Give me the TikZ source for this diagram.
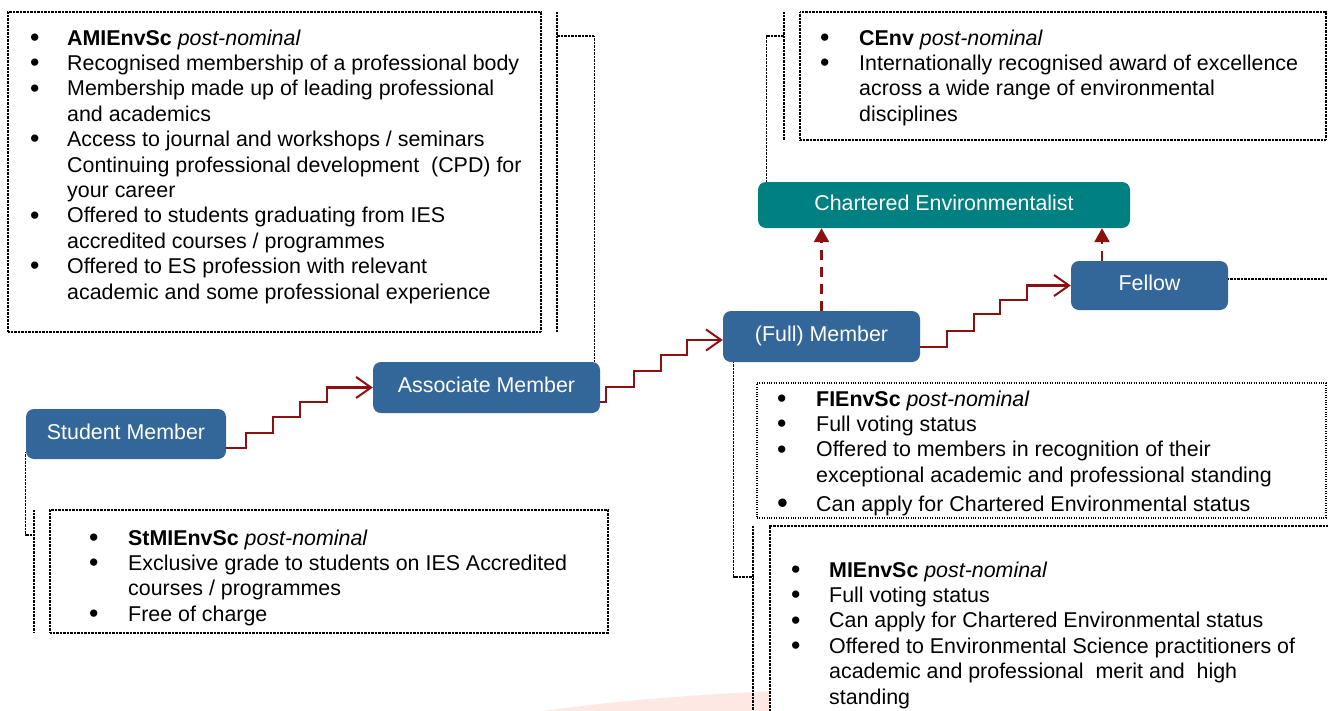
\documentclass[tikz,border=0pt]{standalone}
\usepackage{fontspec}
\usepackage{graphicx}
\setmainfont{Liberation Sans}
\usetikzlibrary{arrows.meta}
\definecolor{gblue}{RGB}{52,103,153}
\definecolor{gteal}{RGB}{0,128,128}
\definecolor{stairred}{RGB}{140,16,16}
\definecolor{swoosh}{RGB}{253,232,228}
\newcommand{\blt}{\raisebox{-1.2pt}{\scalebox{1.25}{\textbullet}}}
\newcommand{\bigblt}{\raisebox{-2pt}{\scalebox{1.45}{\textbullet}}}
\begin{document}
\begin{tikzpicture}[x=1pt,y=-1pt,
 grade/.style={rectangle, rounded corners=8pt, fill=gblue, text=white, inner sep=0pt,
   text height=15.4pt, text depth=4.5pt, font=\fontsize{21.4}{25.4}\selectfont},
 chartered/.style={grade, fill=gteal},
 infobox/.style={rectangle, draw=black, line width=1.1pt, dash pattern=on 0.9pt off 0.5pt, fill=white, inner sep=0pt},
 sparsebox/.style={infobox, dash pattern=on 1pt off 1.4pt},
 bracket/.style={draw=black, line width=1.1pt, dash pattern=on 0.9pt off 0.5pt},
 bullettext/.style={anchor=base west, inner sep=0pt, font=\fontsize{21.4}{25.4}\selectfont},
 stair/.style={draw=stairred, line width=2.2pt, -{Straight Barb[length=15pt,width=21pt,line width=2pt]}},
 dasharrow/.style={draw=stairred, line width=2.5pt, dash pattern=on 10pt off 7pt, -{Triangle[length=14pt,width=15pt]}},
]
\useasboundingbox (0,0) rectangle (1328,710);
\clip (0,0) rectangle (1328,710);
\fill[white] (0,0) rectangle (1328,710);

% faint background swoosh
\fill[swoosh] (536,712) .. controls (620,700) and (700,694) .. (800,690) -- (800,712) -- cycle;

% grade boxes
\node[grade, minimum width=200pt, minimum height=50pt] (sm) at (126,434) {Student Member};
\node[grade, minimum width=227pt, minimum height=51pt] (am) at (486.5,387.5) {Associate Member};
\node[grade, minimum width=197pt, minimum height=51pt] (fm) at (821.5,336.5) {(Full) Member};
\node[grade, minimum width=157pt, minimum height=49pt] (fe) at (1149.5,285.5) {Fellow};
\node[chartered, minimum width=372pt, minimum height=46pt] (ce) at (944,205) {Chartered Environmentalist};

% information boxes
\node[infobox, minimum width=533pt, minimum height=320pt] (amibox) at (274.5,172) {};
\node[infobox, minimum width=558pt, minimum height=123pt] (stbox) at (329,571.5) {};
\node[infobox, minimum width=526pt, minimum height=128pt] (cebox) at (1063,76) {};
\node[sparsebox, minimum width=569pt, minimum height=135pt] (fibox) at (1041.5,450.5) {};
\node[infobox, minimum width=580pt, minimum height=214pt] (mibox) at (1060,633) {};

% bracket lines and connectors
\coordinate (abt) at (557,12); \coordinate (abb) at (557,332); \coordinate (aj) at (557,36);
\draw[bracket] (abt) -- (abb);
\draw[bracket] ([xshift=-6pt]am.north east) |- (aj);

\coordinate (sbt) at (34,510); \coordinate (sbb) at (34,633); \coordinate (sj) at (34,535);
\draw[bracket] (sbt) -- (sbb);
\draw[bracket] ([yshift=7pt]sm.south west) |- (sj);

\coordinate (cbt) at (784,12); \coordinate (cbb) at (784,140); \coordinate (cj) at (784,36);
\draw[bracket] (cbt) -- (cbb);
\draw[bracket] ([xshift=9pt]ce.north west) |- (cj);

\coordinate (mbt) at (753,526); \coordinate (mbb) at (753,714); \coordinate (mj) at (753,577);
\draw[bracket] (mbt) -- (mbb);
\draw[bracket] ([xshift=11pt]fm.south west) |- (mj);

\coordinate (fx) at (1332,279);
\draw[bracket] (fe.east |- fx) -- (fx);

% stair arrows
\draw[stair] ([yshift=-14pt]sm.east) -- ++(20,0) -- ++(0,-15) -- ++(27,0) -- ++(0,-16) -- ++(27,0) -- ++(0,-15) -- ++(27,0) |- (am.west);
\draw[stair] ([yshift=-14.5pt]am.east) -- ++(6,0) -- ++(0,-15) -- ++(28,0) -- ++(0,-16) -- ++(27,0) -- ++(0,-16) -- ++(26,0) |- ([yshift=-3.5pt]fm.west);
\draw[stair] ([yshift=-10.5pt]fm.east) -- ++(27,0) -- ++(0,-16) -- ++(27,0) -- ++(0,-17) -- ++(26,0) -- ++(0,-14) -- ++(27,0) |- (fe.west);

% dashed arrows to Chartered Environmentalist
\draw[dasharrow] (fm.north) -- (fm.north |- ce.south);
\coordinate (fetop) at ([xshift=-47.5pt]fe.north);
\draw[dasharrow] (fetop) -- (fetop |- ce.south);

% texts
\node[bullettext] (amitext) at (30,45) {\begin{tabular}[t]{@{}p{37pt}@{}l@{}}
\blt & \textbf{AMIEnvSc} \textit{post-nominal}\\
\blt & Recognised membership of a professional body\\
\blt & Membership made up of leading professional\\
 & and academics\\
\blt & Access to journal and workshops / seminars\\
 & Continuing professional development~ (CPD) for\\
 & your career\\
\blt & Offered to students graduating from IES\\
 & accredited courses / programmes\\
\blt & Offered to ES profession with relevant\\
 & academic and some professional experience
\end{tabular}};

\node[bullettext] (sttext) at (89,545) {\begin{tabular}[t]{@{}p{39pt}@{}l@{}}
\blt & \textbf{StMIEnvSc} \textit{post-nominal}\\
\blt & Exclusive grade to students on IES Accredited\\
 & courses / programmes\\
\blt & Free of charge
\end{tabular}};

\node[bullettext] (cetext) at (820,45) {\begin{tabular}[t]{@{}p{39pt}@{}l@{}}
\blt & \textbf{CEnv} \textit{post-nominal}\\
\blt & Internationally recognised award of excellence\\
 & across a wide range of environmental\\
 & disciplines
\end{tabular}};

\node[bullettext] (fitext) at (777,406) {\begin{tabular}[t]{@{}p{39pt}@{}l@{}}
\blt & \textbf{FIEnvSc} \textit{post-nominal}\\
\blt & Full voting status\\
\blt & Offered to members in recognition of their\\
 & exceptional academic and professional standing\\[4pt]
\bigblt & Can apply for Chartered Environmental status
\end{tabular}};

\node[bullettext] (mitext) at (791,577) {\begin{tabular}[t]{@{}p{38pt}@{}l@{}}
\blt & \textbf{MIEnvSc} \textit{post-nominal}\\
\blt & Full voting status\\
\blt & Can apply for Chartered Environmental status\\
\blt & Offered to Environmental Science practitioners of\\
 & academic and professional~ merit and~ high\\
 & standing
\end{tabular}};
\end{tikzpicture}
\end{document}
